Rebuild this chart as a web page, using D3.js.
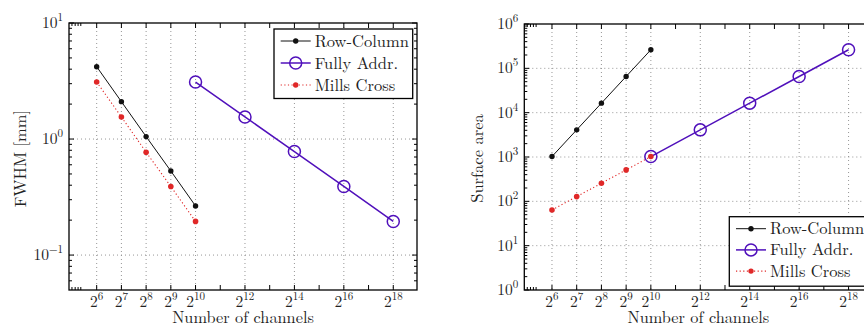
<!DOCTYPE html>
<html>
<head>
<meta charset="utf-8">
<script src="https://cdn.jsdelivr.net/npm/d3@7"></script>
<style>
  html, body { margin: 0; padding: 0; background: #fff; }
  svg { display: block; }
</style>
</head>
<body>
<svg id="chart" width="864" height="327"></svg>
<script>
// ---------- data ----------
const channelsSmall = [64, 128, 256, 512, 1024];          // 2^6 .. 2^10
const channelsLarge = [1024, 4096, 16384, 65536, 262144]; // 2^10 .. 2^18

const fwhmRowColumn  = [4.2, 2.1, 1.05, 0.53, 0.265];
const fwhmFullyAddr  = [3.1, 1.55, 0.78, 0.39, 0.195];
const fwhmMillsCross = [3.1, 1.55, 0.77, 0.39, 0.195];

const areaRowColumn  = [1024, 4096, 16384, 65536, 262144];
const areaFullyAddr  = [1024, 4096, 16384, 65536, 262144];
const areaMillsCross = [64, 128, 256, 512, 1024];

const xTickExponents  = [6, 7, 8, 9, 10, 12, 14, 16, 18];
const xMinorTicks     = [32, 35, 38, 41, 2048, 8192, 32768, 131072];
const seriesNames     = ["Row-Column", "Fully Addr.", "Mills Cross"];

// ---------- style ----------
const FONT = "'Latin Modern Roman', 'Liberation Serif', serif";
const colBlack = "#111111", colPurple = "#5010bb", colRed = "#e02828";
const svg = d3.select("#chart");

function txt(sel) {
  return sel.attr("font-family", FONT).attr("fill", "#222");
}

function drawPanel(cfg) {
  const g = svg.append("g");
  const x = d3.scaleLog().base(2)
    .domain([Math.pow(2, 4.88), Math.pow(2, 18.96)])
    .range([cfg.left, cfg.left + 348]);
  const y = d3.scaleLog().domain(cfg.yDomain).range([290, cfg.top]);
  const L = cfg.left, R = cfg.left + 348, T = cfg.top, B = 290;

  // grid
  const xTickVals = xTickExponents.map(e => Math.pow(2, e));
  const yMajor = d3.range(cfg.yExp[0], cfg.yExp[1] + 1).map(e => Math.pow(10, e));
  const grid = g.append("g").attr("stroke", "#8a8a8a").attr("stroke-width", 0.9)
    .attr("stroke-dasharray", "1,3");
  grid.selectAll(".gx").data(xTickVals).join("line")
    .attr("x1", d => x(d)).attr("x2", d => x(d)).attr("y1", T).attr("y2", B);
  grid.selectAll(".gy").data(yMajor.filter(v => y(v) > T + 1 && y(v) < B - 1)).join("line")
    .attr("x1", L).attr("x2", R).attr("y1", d => y(d)).attr("y2", d => y(d));

  // ticks (inward, all sides)
  const tk = g.append("g").attr("stroke", "#000").attr("stroke-width", 1);
  xTickVals.concat(xMinorTicks.filter(v => v > 1000)).forEach(v => {
    tk.append("line").attr("x1", x(v)).attr("x2", x(v)).attr("y1", B).attr("y2", B - 5);
    tk.append("line").attr("x1", x(v)).attr("x2", x(v)).attr("y1", T).attr("y2", T + 5);
  });
  xMinorTicks.filter(v => v < 64).forEach(v => {
    tk.append("line").attr("x1", x(v)).attr("x2", x(v)).attr("y1", B).attr("y2", B - 3);
    tk.append("line").attr("x1", x(v)).attr("x2", x(v)).attr("y1", T).attr("y2", T + 3);
  });
  yMajor.forEach(v => {
    tk.append("line").attr("x1", L).attr("x2", L + 5).attr("y1", y(v)).attr("y2", y(v));
    tk.append("line").attr("x1", R).attr("x2", R - 5).attr("y1", y(v)).attr("y2", y(v));
  });
  const yMinor = [];
  for (let e = cfg.yExp[0] - 2; e <= cfg.yExp[1]; e++)
    for (let k = 2; k <= 9; k++) {
      const v = k * Math.pow(10, e);
      if (v > cfg.yDomain[0] && v < cfg.yDomain[1]) yMinor.push(v);
    }
  yMinor.forEach(v => {
    tk.append("line").attr("x1", L).attr("x2", L + 3).attr("y1", y(v)).attr("y2", y(v));
    tk.append("line").attr("x1", R).attr("x2", R - 3).attr("y1", y(v)).attr("y2", y(v));
  });

  // x tick labels
  xTickExponents.forEach(e => {
    const t = txt(g.append("text")).attr("x", x(Math.pow(2, e))).attr("y", 306.5)
      .attr("text-anchor", "middle").attr("font-size", 15.5);
    t.append("tspan").text("2");
    t.append("tspan").attr("dy", -6.5).attr("font-size", 11).text(String(e));
  });
  // y tick labels
  d3.range(cfg.yExp[0], cfg.yExp[1] + 1).forEach(e => {
    const t = txt(g.append("text")).attr("x", L - 6).attr("y", y(Math.pow(10, e)) + 5)
      .attr("text-anchor", "end").attr("font-size", 15.5);
    t.append("tspan").text("10");
    t.append("tspan").attr("dy", -7).attr("font-size", 11)
      .text(e < 0 ? "\u2212" + (-e) : String(e));
  });

  // axis labels
  txt(g.append("text")).attr("x", (L + R) / 2).attr("y", 322.5).attr("text-anchor", "middle")
    .attr("font-size", 16.3).text("Number of channels");
  txt(g.append("text")).attr("transform", `translate(${cfg.yLabelX},158.5) rotate(-90)`)
    .attr("text-anchor", "middle").attr("font-size", 16.5).text(cfg.yLabel);

  // series
  const line = d3.line().x(d => x(d[0])).y(d => y(d[1]));
  const s = cfg.series;
  const rc = d3.zip(channelsSmall, s.rowColumn);
  const fa = d3.zip(channelsLarge, s.fullyAddr);
  const mc = d3.zip(channelsSmall, s.millsCross);

  g.append("path").datum(mc).attr("d", line).attr("fill", "none")
    .attr("stroke", colRed).attr("stroke-width", 1.1).attr("stroke-dasharray", "1.2,2.4");
  g.append("path").datum(rc).attr("d", line).attr("fill", "none")
    .attr("stroke", colBlack).attr("stroke-width", 1);
  g.append("path").datum(fa).attr("d", line).attr("fill", "none")
    .attr("stroke", colPurple).attr("stroke-width", 1.5);

  g.selectAll(".mc").data(mc).join("circle").attr("cx", d => x(d[0])).attr("cy", d => y(d[1]))
    .attr("r", 2.8).attr("fill", colRed);
  g.selectAll(".rc").data(rc).join("circle").attr("cx", d => x(d[0])).attr("cy", d => y(d[1]))
    .attr("r", 2.7).attr("fill", colBlack);
  g.selectAll(".fa").data(fa).join("circle").attr("cx", d => x(d[0])).attr("cy", d => y(d[1]))
    .attr("r", 6).attr("fill", "none").attr("stroke", colPurple).attr("stroke-width", 1.5);

  // frame
  g.append("rect").attr("x", L).attr("y", T).attr("width", R - L).attr("height", B - T)
    .attr("fill", "none").attr("stroke", "#000").attr("stroke-width", 1.3);

  // legend
  const lg = g.append("g").attr("transform", `translate(${cfg.legend[0]},${cfg.legend[1]})`);
  lg.append("rect").attr("width", 138.7).attr("height", 69.5)
    .attr("fill", "#fff").attr("stroke", "#000").attr("stroke-width", 1.3);
  const styles = [
    {stroke: colBlack, w: 1, dash: null, marker: "dot", fill: colBlack},
    {stroke: colPurple, w: 1.5, dash: null, marker: "ring", fill: colPurple},
    {stroke: colRed, w: 1.1, dash: "1.2,2.4", marker: "dot", fill: colRed}
  ];
  seriesNames.forEach((name, i) => {
    const yy = 12 + i * cfg.legendStep;
    const st = styles[i];
    lg.append("line").attr("x1", 6.7).attr("x2", 36.7).attr("y1", yy).attr("y2", yy)
      .attr("stroke", st.stroke).attr("stroke-width", st.w)
      .attr("stroke-dasharray", st.dash);
    if (st.marker === "dot")
      lg.append("circle").attr("cx", 21.7).attr("cy", yy).attr("r", 2.7).attr("fill", st.fill);
    else
      lg.append("circle").attr("cx", 21.7).attr("cy", yy).attr("r", 6).attr("fill", "none")
        .attr("stroke", st.stroke).attr("stroke-width", 1.5);
    txt(lg.append("text")).attr("x", 40.7).attr("y", yy + 5.6).attr("font-size", 16.5).text(name);
  });
}

drawPanel({
  left: 69, top: 23, yDomain: [0.05, 10], yExp: [-1, 1],
  yLabel: "FWHM [mm]", yLabelX: 26,
  legend: [274, 29], legendStep: 22,
  series: {rowColumn: fwhmRowColumn, fullyAddr: fwhmFullyAddr, millsCross: fwhmMillsCross}
});
drawPanel({
  left: 524.3, top: 24, yDomain: [1, 1e6], yExp: [0, 6],
  yLabel: "Surface area", yLabelX: 483,
  legend: [729.3, 216.7], legendStep: 21.2,
  series: {rowColumn: areaRowColumn, fullyAddr: areaFullyAddr, millsCross: areaMillsCross}
});
</script>
</body>
</html>
